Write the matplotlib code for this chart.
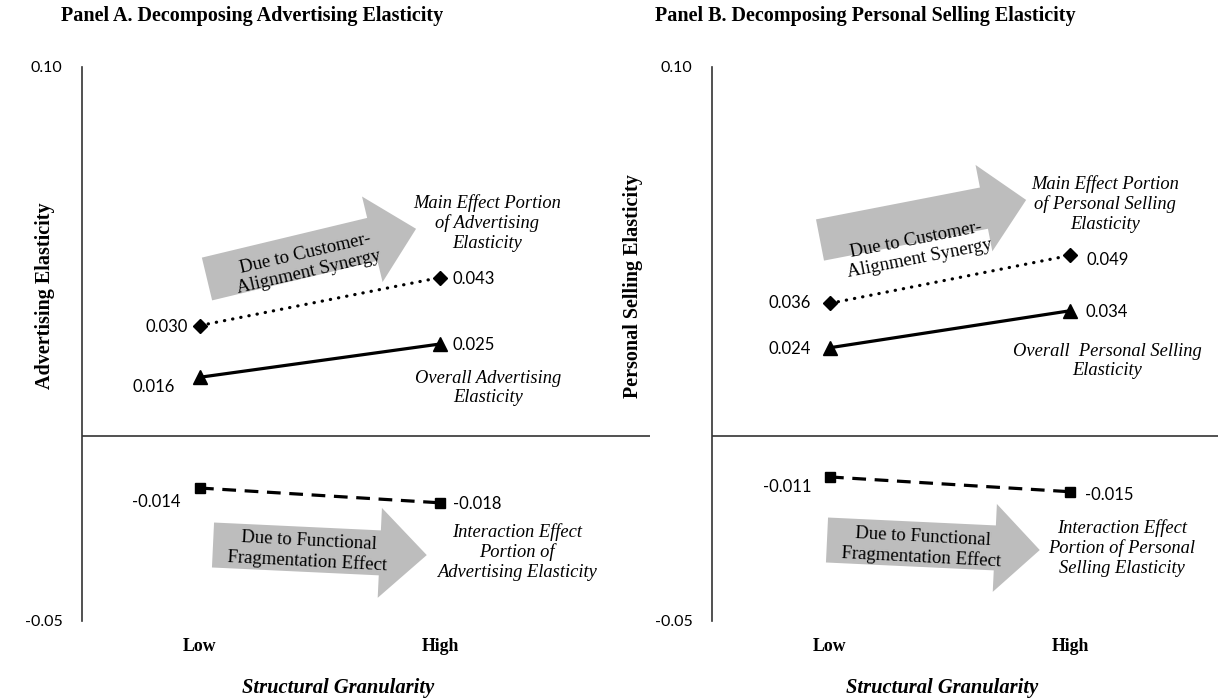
import matplotlib
matplotlib.use("Agg")
import matplotlib.pyplot as plt
import numpy as np
from matplotlib.patches import Polygon

# data
levels = ["Low", "High"]
adv_main = [0.030, 0.043]
adv_overall = [0.016, 0.025]
adv_inter = [-0.014, -0.018]
ps_main = [0.036, 0.049]
ps_overall = [0.024, 0.034]
ps_inter = [-0.011, -0.015]

W, H = 1218, 699
SERIF = "Liberation Serif"
SANS = "Lato"
GREY = "#bdbdbd"

fig = plt.figure(figsize=(W / 100, H / 100), dpi=100)


def px(x, y):
    # pixel (from top-left) -> figure fraction
    return x / W, 1 - y / H


def big_arrow(x0, y0, ang, length, w, hw, hl):
    # fat block arrow, built in pixel space, angle in degrees (counter-clockwise)
    a = np.deg2rad(ang)
    u = np.array([np.cos(a), -np.sin(a)])
    n = np.array([np.sin(a), np.cos(a)])
    p0 = np.array([x0, y0])
    base = p0 + u * (length - hl)
    tip = p0 + u * length
    pts = [p0 - n * w, base - n * w, base - n * hw, tip,
           base + n * hw, base + n * w, p0 + n * w]
    pts = [px(*p) for p in pts]
    fig.patches.append(Polygon(pts, closed=True, transform=fig.transFigure,
                               facecolor=GREY, edgecolor="none", zorder=0))


def make_panel(left, right, main, overall, inter, ylab, ylab_pos):
    x0, x1 = left, right
    top, bottom = 67, 621
    ax = fig.add_axes([x0 / W, 1 - bottom / H, (x1 - x0) / W, (bottom - top) / H])
    ax.patch.set_alpha(0)
    unit = 240.0
    ax.set_xlim(-(830 - 712) / unit, (x1 - x0 - 118) / unit)
    ax.set_ylim(-0.05, 0.10)
    for s in ["top", "right", "bottom"]:
        ax.spines[s].set_visible(False)
    ax.spines["left"].set_color("#333333")
    ax.spines["left"].set_linewidth(1.2)
    ax.axhline(0, color="#333333", lw=1.2)
    ax.set_yticks([0.10, -0.05])
    ax.set_yticklabels(["0.10", "-0.05"], fontfamily=SANS, fontsize=11.5)
    ax.tick_params(axis="y", length=0, pad=14)
    ax.set_xticks([0, 1])
    ax.set_xticklabels(levels, fontfamily=SERIF, fontsize=12.8, fontweight="bold")
    ax.tick_params(axis="x", length=0, pad=12)

    xs = np.arange(len(levels))
    ax.plot(xs, main, color="black", lw=2.3, linestyle=(0, (0.1, 2.5)),
            dash_capstyle="round", marker="D", ms=7.5, zorder=3)
    ax.plot(xs, overall, color="black", lw=2.3, marker="^", ms=10.5, zorder=3)
    ax.plot(xs, inter, color="black", lw=2.3, linestyle=(0, (4.3, 2.7)),
            marker="s", ms=7.5, zorder=3)

    fig.text(*px(*ylab_pos), ylab, rotation=90, ha="center", va="center",
             fontfamily=SERIF, fontsize=14.5, fontweight="bold")
    return ax


def value_labels(ax, series, offsets):
    for vals, offs in zip(series, offsets):
        for i, v in enumerate(vals):
            dx, dy = offs[i]
            ax.annotate(f"{v:.3f}", (i, v), xytext=(dx, dy), textcoords="offset points",
                        ha="right" if i == 0 else "left", va="center",
                        fontfamily=SANS, fontsize=12)


def ital(x, y, s, size=13.3):
    fig.text(*px(x, y), s, ha="center", va="center", fontfamily=SERIF,
             fontstyle="italic", fontsize=size, linespacing=1.2)


def arrow_text(x, y, s, rot):
    fig.text(*px(x, y), s, rotation=rot, rotation_mode="anchor", ha="center",
             va="center", fontfamily=SERIF, fontsize=13.5, linespacing=1.2)


# Panel A
axA = make_panel(82, 650, adv_main, adv_overall, adv_inter,
                 "Advertising Elasticity", (45, 296))
value_labels(axA, [adv_main, adv_overall, adv_inter],
             [[(-9, -1), (9, -1)], [(-18, -7), (9, -1)], [(-14, -10), (9, -1)]])
fig.text(*px(252, 16), "Panel A. Decomposing Advertising Elasticity", ha="center",
         va="center", fontfamily=SERIF, fontsize=14.5, fontweight="bold")
fig.text(*px(338, 688), "Structural Granularity", ha="center", va="center",
         fontfamily=SERIF, fontsize=14.8, fontweight="bold", fontstyle="italic")
big_arrow(207, 279, 13.5, 215, 22, 44, 45)
arrow_text(307, 263, "Due to Customer-\nAlignment Synergy", 13)
big_arrow(213, 545, -2.7, 214, 22.5, 45, 47)
arrow_text(308, 551, "Due to Functional\nFragmentation Effect", -3)
ital(487, 223, "Main Effect Portion\nof Advertising\nElasticity")
ital(488, 388, "Overall Advertising\nElasticity")
ital(517, 552, "Interaction Effect\nPortion of\nAdvertising Elasticity")

# Panel B
axB = make_panel(712, 1218, ps_main, ps_overall, ps_inter,
                 "Personal Selling Elasticity", (633, 286))
value_labels(axB, [ps_main, ps_overall, ps_inter],
             [[(-14, 0), (12, -3)], [(-14, -1), (11, -1)], [(-13, -7), (11, -2)]])
fig.text(*px(865, 16), "Panel B. Decomposing Personal Selling Elasticity", ha="center",
         va="center", fontfamily=SERIF, fontsize=14.5, fontweight="bold")
fig.text(*px(942, 688), "Structural Granularity", ha="center", va="center",
         fontfamily=SERIF, fontsize=14.8, fontweight="bold", fontstyle="italic")
big_arrow(820, 240, 11, 210, 21, 44, 43)
arrow_text(918, 249, "Due to Customer-\nAlignment Synergy", 11)
big_arrow(827, 540, -2.7, 213, 22.5, 44, 45)
arrow_text(922, 547, "Due to Functional\nFragmentation Effect", -3)
ital(1105, 204, "Main Effect Portion\nof Personal Selling\nElasticity")
ital(1107, 361, "Overall  Personal Selling\nElasticity")
ital(1122, 548, "Interaction Effect\nPortion of Personal\nSelling Elasticity")

fig.savefig("out.png", dpi=100)
